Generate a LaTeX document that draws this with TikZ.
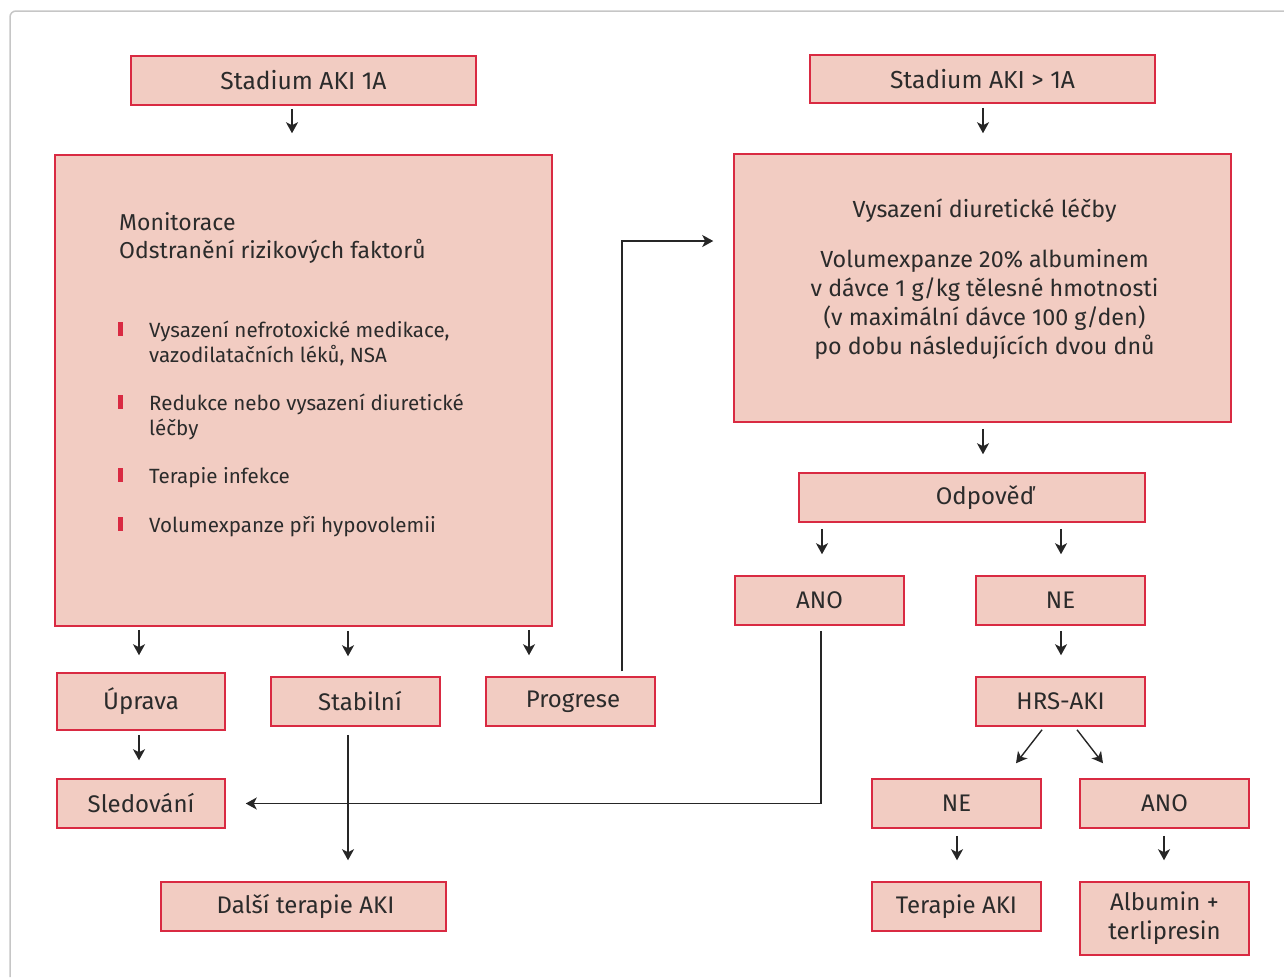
\documentclass[tikz,border=0pt]{standalone}
\usepackage{fontspec}
\setmainfont{Fira Sans}
\usetikzlibrary{arrows.meta,calc}
\definecolor{boxfill}{HTML}{F2CCC2}
\definecolor{boxline}{HTML}{D92A42}
\definecolor{txtc}{HTML}{2B2B2B}
\definecolor{framec}{HTML}{C6C6C6}
\begin{document}
\begin{tikzpicture}[x=1pt,y=-1pt,
  box/.style={draw=boxline, fill=boxfill, line width=1.5pt, text=txtc,
    font=\fontsize{24}{29}\selectfont, inner sep=0pt, align=center},
  ttl/.style={box, font=\fontsize{24.6}{29}\selectfont},
  plain/.style={text=txtc, inner sep=0pt, font=\fontsize{20.6}{25}\selectfont},
  bar/.style={fill=boxline, draw=none, minimum width=5pt, minimum height=14pt, inner sep=0pt},
  arr/.style={draw=black!85, line width=1.4pt, -{Stealth[length=11pt,width=12pt,inset=3pt]}}]
\useasboundingbox (0,0) rectangle (1284,977);
\draw[framec, line width=1.5pt, rounded corners=6pt] (10,977) -- (10,11) -- (1284,11);

% left column
\node[ttl, minimum width=345, minimum height=49] (s1) at (303.5,80.5) {Stadium AKI 1A};
\node[box, minimum width=497, minimum height=471] (b1) at (303.5,390.5) {};
\node[plain, anchor=base west, align=left, font=\fontsize{23}{28}\selectfont] (mon) at (119,258) {Monitorace\\Odstranění rizikových faktorů};
\node[bar, anchor=south west] (k1) at (118,336) {};
\node[plain, anchor=base west, align=left] (t1) at (149,362) {Vysazení nefrotoxické medikace,\\vazodilatačních léků, NSA};
\node[bar, anchor=south west] (k2) at (118,409) {};
\node[plain, anchor=base west, align=left] (t2) at (149,435) {Redukce nebo vysazení diuretické\\léčby};
\node[bar, anchor=south west] (k3) at (118,482) {};
\node[plain, anchor=base west, align=left] (t3) at (149,483) {Terapie infekce};
\node[bar, anchor=south west] (k4) at (118,531) {};
\node[plain, anchor=base west, align=left] (t4) at (149,532) {Volumexpanze při hypovolemii};

\node[box, minimum width=168, minimum height=57] (upr) at (141,701.5) {Úprava};
\node[box, minimum width=169, minimum height=49] (stab) at (355.5,701.5) {\hspace*{9pt}Stabilní};
\node[box, minimum width=169, minimum height=49] (prog) at (570.5,701.5) {\hspace*{5pt}Progrese};
\node[box, minimum width=168, minimum height=49] (sled) at (141,803.5) {Sledování};
\node[box, minimum width=285, minimum height=49] (dal) at (303.5,906.5) {\hspace*{4pt}Další terapie AKI};

% right column
\node[ttl, minimum width=345, minimum height=48] (s2) at (982.5,79) {Stadium AKI > 1A};
\node[box, minimum width=497, minimum height=268] (b2) at (982.5,288) {};
\node[plain, anchor=base, font=\fontsize{23.3}{29}\selectfont] (v1) at (984.5,217) {Vysazení diuretické léčby};
\node[plain, anchor=base, align=center, font=\fontsize{23.3}{29}\selectfont] (v2) at (984.5,354) {Volumexpanze 20\% albuminem\\v dávce 1 g/kg tělesné hmotnosti\\(v maximální dávce 100 g/den)\\po dobu následujících dvou dnů};
\node[box, minimum width=346, minimum height=49] (odp) at (972,497.5) {\hspace*{26pt}Odpověď};
\node[box, minimum width=169, minimum height=49] (ano1) at (819.5,600.5) {ANO};
\node[box, minimum width=169, minimum height=49] (ne1) at (1060.5,600.5) {NE};
\node[box, minimum width=169, minimum height=49] (hrs) at (1060.5,701.5) {HRS-AKI};
\node[box, minimum width=169, minimum height=49] (ne2) at (956.5,803.5) {NE};
\node[box, minimum width=169, minimum height=49] (ano2) at (1164.5,803.5) {ANO};
\node[box, minimum width=169, minimum height=49] (ter) at (956.5,906.5) {Terapie AKI};
\node[box, minimum width=169, minimum height=73] (alb) at (1164.5,918.5) {Albumin +\\terlipresin};

% arrows
\draw[arr] ([shift={(-11.5,3)}]s1.south) -- ([shift={(-11.5,-21)}]b1.north);
\draw[arr] ([shift={(0.5,4)}]s2.south) -- ([shift={(0.5,-20)}]b2.north);
\draw[arr] ([shift={(0.5,6)}]b2.south) -- ([shift={(11,-18)}]odp.north);
\draw[arr] ([shift={(-150,6)}]odp.south) -- ([shift={(2.5,-21)}]ano1.north);
\draw[arr] ([shift={(89,6)}]odp.south) -- ([shift={(0.5,-21)}]ne1.north);
\draw[arr] ([shift={(0.5,5)}]ne1.south) -- ([shift={(0.5,-21)}]hrs.north);
\draw[arr] ([shift={(-18.5,3)}]hrs.south) -- ([shift={(59.5,-15)}]ne2.north);
\draw[arr] ([shift={(16.5,3)}]hrs.south) -- ([shift={(-61.5,-15)}]ano2.north);
\draw[arr] ([shift={(0.5,7)}]ne2.south) -- ([shift={(0.5,-21)}]ter.north);
\draw[arr] ([shift={(-0.5,7)}]ano2.south) -- ([shift={(-0.5,-21)}]alb.north);
\draw[arr] ([shift={(-164.5,3)}]b1.south) -- ([shift={(-2,-17)}]upr.north);
\draw[arr] ([shift={(44.5,4)}]b1.south) -- ([shift={(-7.5,-20)}]stab.north);
\draw[arr] ([shift={(225.5,3)}]b1.south) -- ([shift={(-41.5,-21)}]prog.north);
\draw[arr] ([shift={(-2,4)}]upr.south) -- ([shift={(-2,-18)}]sled.north);
\draw[arr] ([shift={(-7.5,8)}]stab.south) -- ([shift={(44.5,-21)}]dal.north);
\draw[arr] ([shift={(1.5,5)}]ano1.south) |- ([xshift=20]sled.east);
\draw[arr] ([shift={(51.5,-5)}]prog.north) |- ([shift={(-20,-47)}]b2.west);
\end{tikzpicture}
\end{document}
